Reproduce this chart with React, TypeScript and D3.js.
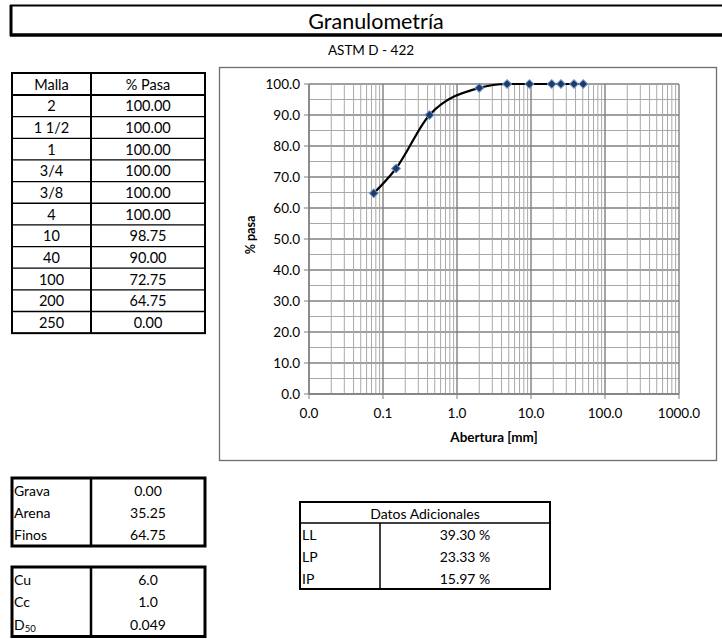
import React from 'react';
import * as d3 from 'd3';

// sieve data
const mallas = ['2', '1 1/2', '1', '3/4', '3/8', '4', '10', '40', '100', '200', '250'];
const aberturas = [50.8, 38.1, 25.4, 19.05, 9.525, 4.75, 2.0, 0.425, 0.15, 0.075, 0.063];
const pasa = [100, 100, 100, 100, 100, 100, 98.75, 90, 72.75, 64.75, 0];

const fracciones = ['Grava', 'Arena', 'Finos'];
const fraccionValores = ['0.00', '35.25', '64.75'];

const coefs = ['Cu', 'Cc', 'D50'];
const coefValores = ['6.0', '1.0', '0.049'];

const limites = ['LL', 'LP', 'IP'];
const limiteValores = ['39.30 %', '23.33 %', '15.97 %'];

const yTicks = [0, 10, 20, 30, 40, 50, 60, 70, 80, 90, 100];
const xTicks = [0.01, 0.1, 1, 10, 100, 1000];

const W = 722;
const H = 639;
const font = 'Lato, "Open Sans", sans-serif';

const plot = { left: 309, right: 679, top: 84, bottom: 394 };

const x = d3.scaleLog().domain([0.01, 1000]).range([plot.left, plot.right]);
const y = d3.scaleLinear().domain([0, 100]).range([plot.bottom, plot.top]);
const fmt = d3.format('.1f');

const points = aberturas
  .map((mm, i) => ({ mm, p: pasa[i] }))
  .filter(d => d.p > 0)
  .sort((a, b) => a.mm - b.mm);

const line = d3.line<{ mm: number; p: number }>()
  .x(d => x(d.mm))
  .y(d => y(d.p))
  .curve(d3.curveMonotoneX);

// square rotated 45deg -> even diamond like excel's marker
const diamond = d3.symbol().type(d3.symbolSquare).size(38)();

const vGrid: { v: number; major: boolean }[] = [];
[0.01, 0.1, 1, 10, 100].forEach(dec => {
  for (let k = 1; k <= 9; k++) vGrid.push({ v: dec * k, major: k === 1 });
});
vGrid.push({ v: 1000, major: true });
const hGrid = d3.range(0, 101, 5);

// small two-column table with label/value rows and no row lines
const SideTable = ({ top, rowH, labels, values }) => {
  const left = 12, split = 91, right = 205;
  const h = rowH * labels.length + 2;
  return (
    <g>
      <rect x={left} y={top} width={right - left} height={h} fill="none" stroke="#000" strokeWidth={3} />
      <line x1={split} x2={split} y1={top} y2={top + h} stroke="#000" strokeWidth={2.5} />
      {labels.map((l, i) => (
        <g key={l}>
          <text x={left + 2} y={top + 1 + rowH * (i + 0.5)} dominantBaseline="central" fontSize={14}>
            {l === 'D50' ? (<>D<tspan fontSize={9.5} dy={4}>50</tspan></>) : l}
          </text>
          <text x={(split + right) / 2} y={top + 1 + rowH * (i + 0.5)} dominantBaseline="central" textAnchor="middle" fontSize={14}>
            {values[i]}
          </text>
        </g>
      ))}
    </g>
  );
};

export default function App() {
  const tTop = 73, tHead = 22, tRow = 21.65;
  const tLeft = 12, tSplit = 91, tRight = 205;
  const tBottom = tTop + tHead + tRow * mallas.length;

  const dLeft = 300, dRight = 550, dSplit = 380, dTop = 502, dHead = 21, dRow = 22;

  return (
    <div style={{ position: 'absolute', left: 0, top: 0 }}>
      <svg width={W} height={H} style={{ display: 'block', fontFamily: font }}>
        <rect width={W} height={H} fill="#fff" />

        {/* title */}
        <line x1={10} x2={W + 5} y1={5.5} y2={5.5} stroke="#000" strokeWidth={2} />
        <line x1={10} x2={W + 5} y1={35} y2={35} stroke="#000" strokeWidth={3.5} />
        <line x1={11} x2={11} y1={5} y2={36} stroke="#000" strokeWidth={3} />
        <text x={376} y={21} textAnchor="middle" dominantBaseline="central" fontSize={21.5}>Granulometría</text>
        <text x={371} y={50} textAnchor="middle" dominantBaseline="central" fontSize={13.5}>ASTM D - 422</text>

        {/* Malla table */}
        <rect x={tLeft} y={tTop} width={tRight - tLeft} height={tBottom - tTop} fill="none" stroke="#000" strokeWidth={2} />
        <line x1={tSplit} x2={tSplit} y1={tTop} y2={tBottom} stroke="#000" strokeWidth={2} />
        <line x1={tLeft} x2={tRight} y1={tTop + tHead} y2={tTop + tHead} stroke="#000" strokeWidth={2} />
        {mallas.map((m, i) => (
          <g key={m}>
            {i > 0 && (
              <line x1={tLeft} x2={tRight} y1={tTop + tHead + tRow * i} y2={tTop + tHead + tRow * i} stroke="#000" strokeWidth={1.3} />
            )}
            <text x={(tLeft + tSplit) / 2} y={tTop + tHead + tRow * (i + 0.5)} textAnchor="middle" dominantBaseline="central" fontSize={14.5}>{m}</text>
            <text x={(tSplit + tRight) / 2} y={tTop + tHead + tRow * (i + 0.5)} textAnchor="middle" dominantBaseline="central" fontSize={14.5}>{pasa[i].toFixed(2)}</text>
          </g>
        ))}
        <text x={(tLeft + tSplit) / 2} y={tTop + tHead / 2} textAnchor="middle" dominantBaseline="central" fontSize={14.5}>Malla</text>
        <text x={(tSplit + tRight) / 2} y={tTop + tHead / 2} textAnchor="middle" dominantBaseline="central" fontSize={14.5}>% Pasa</text>

        {/* chart frame */}
        <rect x={219.5} y={67.5} width={497} height={393} fill="#fff" stroke="#6f6f6f" strokeWidth={1.3} />

        {/* grid */}
        {hGrid.map(v => (
          <line key={'h' + v} x1={plot.left} x2={plot.right} y1={y(v)} y2={y(v)}
            stroke={v % 10 === 0 ? '#7f7f7f' : '#a9a9a9'} strokeWidth={v % 10 === 0 ? 1.4 : 1} />
        ))}
        {vGrid.map(g => (
          <line key={'v' + g.v} x1={x(g.v)} x2={x(g.v)} y1={plot.top} y2={plot.bottom}
            stroke={g.major ? '#7f7f7f' : '#a9a9a9'} strokeWidth={g.major ? 1.4 : 1} />
        ))}

        {/* axes */}
        <line x1={plot.left} x2={plot.left} y1={plot.top} y2={plot.bottom} stroke="#7f7f7f" strokeWidth={1.3} />
        <line x1={plot.left} x2={plot.right} y1={plot.bottom} y2={plot.bottom} stroke="#7f7f7f" strokeWidth={1.3} />
        {yTicks.map(t => (
          <g key={'yt' + t}>
            <line x1={plot.left - 5} x2={plot.left} y1={y(t)} y2={y(t)} stroke="#7f7f7f" />
            <text x={plot.left - 9} y={y(t)} textAnchor="end" dominantBaseline="central" fontSize={13.5}>{fmt(t)}</text>
          </g>
        ))}
        {xTicks.map(t => (
          <g key={'xt' + t}>
            <line x1={x(t)} x2={x(t)} y1={plot.bottom} y2={plot.bottom + 5} stroke="#7f7f7f" />
            <text x={x(t)} y={plot.bottom + 19} textAnchor="middle" dominantBaseline="central" fontSize={13.5}>{fmt(t)}</text>
          </g>
        ))}
        <text x={(plot.left + plot.right) / 2} y={437} textAnchor="middle" dominantBaseline="central" fontSize={13.5} fontWeight="bold">Abertura [mm]</text>
        <text transform={`translate(250,${(plot.top + plot.bottom) / 2 - 4}) rotate(-90)`} textAnchor="middle" dominantBaseline="central" fontSize={12.5} fontWeight="bold">% pasa</text>

        {/* curve */}
        <path d={line(points) || ''} fill="none" stroke="#000" strokeWidth={2.2} />
        {points.map(d => (
          <path key={'m' + d.mm} d={diamond} transform={`translate(${x(d.mm)},${y(d.p)}) rotate(45)`}
            fill="#1f3a64" stroke="#6a93cc" strokeWidth={1} />
        ))}

        {/* bottom tables */}
        <SideTable top={478} rowH={22} labels={fracciones} values={fraccionValores} />
        <SideTable top={567} rowH={22.5} labels={coefs} values={coefValores} />

        <rect x={dLeft} y={dTop} width={dRight - dLeft} height={dHead + dRow * limites.length} fill="none" stroke="#000" strokeWidth={2} />
        <line x1={dLeft} x2={dRight} y1={dTop + dHead} y2={dTop + dHead} stroke="#000" strokeWidth={1.5} />
        <line x1={dSplit} x2={dSplit} y1={dTop + dHead} y2={dTop + dHead + dRow * limites.length} stroke="#000" strokeWidth={1.5} />
        <text x={(dLeft + dRight) / 2} y={dTop + dHead / 2 + 1} textAnchor="middle" dominantBaseline="central" fontSize={14}>Datos Adicionales</text>
        {limites.map((l, i) => (
          <g key={l}>
            <text x={dLeft + 2} y={dTop + dHead + dRow * (i + 0.5)} dominantBaseline="central" fontSize={14}>{l}</text>
            <text x={(dSplit + dRight) / 2} y={dTop + dHead + dRow * (i + 0.5)} textAnchor="middle" dominantBaseline="central" fontSize={14}>{limiteValores[i]}</text>
          </g>
        ))}
      </svg>
    </div>
  );
}
